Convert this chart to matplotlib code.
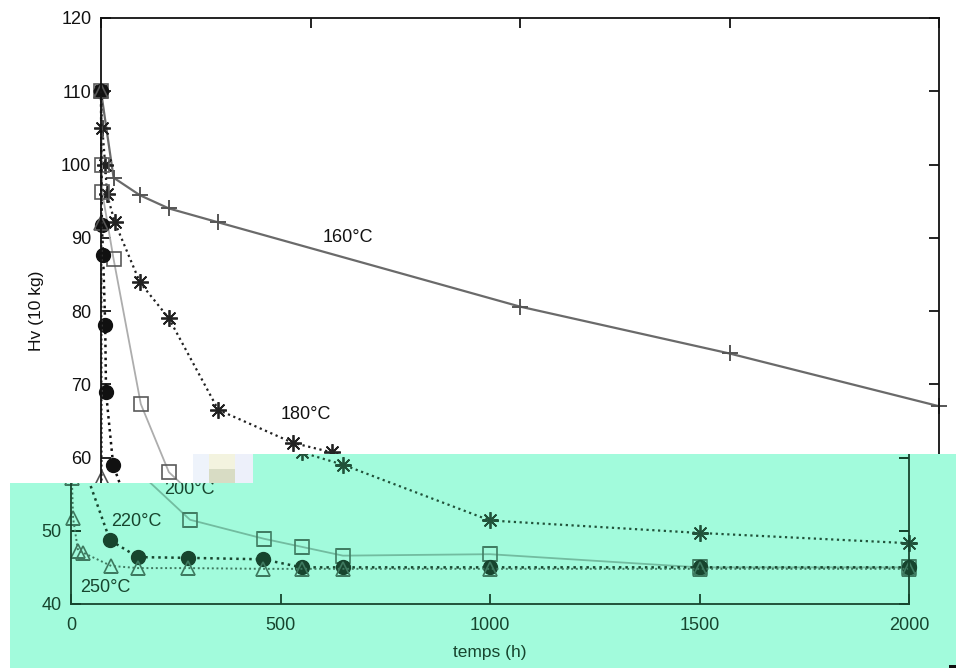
import matplotlib
matplotlib.use('Agg')
import matplotlib.pyplot as plt
from matplotlib.colors import to_rgb
from matplotlib.patches import Polygon, Rectangle
from matplotlib.transforms import Bbox, TransformedBbox

plt.rcParams['font.family'] = ['Liberation Sans', 'DejaVu Sans']

W, H = 956, 668

# ---------------- data (time in h, Hv in 10 kg) ----------------
t160 = [0, 30, 93, 162, 280, 1000, 1500, 2000]
hv160 = [110, 98.2, 95.8, 94.0, 92.1, 80.6, 74.2, 67.0]

t180 = [0, 3, 10, 14, 33, 93, 162, 280, 458, 551, 650, 1000, 1500, 2000]
hv180 = [110, 105, 100, 96.0, 92.1, 83.9, 79.0, 66.5, 62.0, 60.7, 59.0, 51.4, 49.7, 48.3]

t200 = [0, 2, 3, 30, 95, 162, 284, 461, 551, 649, 1000, 1500, 2000]
hv200 = [110, 100, 96.2, 87.1, 67.3, 58.0, 51.5, 48.9, 47.8, 46.6, 46.8, 45.0, 45.0]

t220 = [0, 2, 5, 10, 12, 29, 93, 160, 280, 458, 551, 648, 1000, 1500, 2000]
hv220 = [110, 91.7, 87.6, 78.1, 68.9, 59.0, 48.7, 46.4, 46.3, 46.1, 45.0, 45.0, 45.0, 45.0, 45.0]

t250 = [0, 1, 2, 5, 17, 29, 96, 160, 280, 458, 551, 648, 1000, 1500, 2000]
hv250 = [110, 92, 57.2, 51.7, 47.2, 47.0, 45.2, 44.9, 44.9, 44.8, 44.8, 44.8, 44.8, 44.8, 44.8]

labels = ['160°C', '180°C', '200°C', '220°C', '250°C']
label_t = [589, 489, 282, 157, 81]
label_hv = [90.1, 65.9, 55.6, 51.2, 42.3]

x_ticks = [0, 500, 1000, 1500, 2000]
y_ticks = [40, 50, 60, 70, 80, 90, 100, 110, 120]

# ---------------- styles ----------------
styles = [
    dict(color='#6a6a6a', ls='-', lw=1.6, marker='+', ms=12, mew=1.4, mfc='none', mec='#555555'),
    dict(color='#222222', ls=(0, (1, 1.6)), lw=1.6, marker=(8, 2, 0), ms=12, mew=1.3, mfc='none', mec='#222222'),
    dict(color='#adadad', ls='-', lw=1.3, marker='s', ms=10, mew=1.2, mfc='none', mec='#5a5a5a'),
    dict(color='#111111', ls=(0, (1, 1.6)), lw=1.8, marker='o', ms=10, mew=1.0, mfc='#111111', mec='#111111'),
    dict(color='#555555', ls=(0, (1, 1.4)), lw=1.4, marker='^', ms=10, mew=1.2, mfc='none', mec='#555555'),
]
series = [(t160, hv160), (t180, hv180), (t200, hv200), (t220, hv220), (t250, hv250)]

GREEN = '#a2fbdc'
DARK = (0.05, 0.22, 0.13)
SPLIT_HV = 60.5   # level where the green strip starts


def tint(c):
    # map a gray of the scanned chart onto the green-tinted lower strip
    if c == 'none':
        return c
    g = sum(to_rgb(c)) / 3
    bg = to_rgb(GREEN)
    return tuple(d + g * (b - d) for d, b in zip(DARK, bg))


def px_box(left, right, top, bottom):
    return [left / W, 1 - bottom / H, (right - left) / W, (bottom - top) / H]


def fig_pt(x, y):
    return (x / W, 1 - y / H)


fig = plt.figure(figsize=(W / 100, H / 100), dpi=100)
fig.patch.set_facecolor('white')

ax_top = fig.add_axes(px_box(101, 939, 18, 604))
ax_bot = fig.add_axes(px_box(71, 909, 18, 604))
ax_top.set_zorder(0)
ax_bot.set_zorder(2)
ax_bot.patch.set_facecolor('none')

# ---------------- upper (white) copy of the chart ----------------
for (t, hv), st in zip(series, styles):
    ax_top.plot(t, hv, color=st['color'], ls=st['ls'], lw=st['lw'], marker=st['marker'],
                ms=st['ms'], mew=st['mew'], mfc=st['mfc'], mec=st['mec'], clip_on=False)
for txt, tx, ty in zip(labels, label_t, label_hv):
    if ty > SPLIT_HV:
        ax_top.text(tx, ty, txt, fontsize=13, ha='center', va='center', color='#111111')

ax_top.set_xlim(0, 2000)
ax_top.set_ylim(40, 120)
ax_top.set_xticks(x_ticks)
ax_top.set_yticks(y_ticks, labels=[str(v) if v > 50 else '' for v in y_ticks])
ax_top.tick_params(direction='in', length=7, width=1.3, labelsize=13, pad=7,
                   top=True, right=True, labelbottom=False, colors='#111111')
for sp in ax_top.spines.values():
    sp.set_linewidth(1.3)
    sp.set_color('#111111')
ax_top.set_ylabel('Hv (10 kg)', fontsize=12.5, color='#111111')
ax_top.yaxis.set_label_coords(-0.068, 0.5)

# ---------------- green overlay strip ----------------
poly_px = [(10, 668), (10, 483), (253, 483), (253, 454), (956, 454), (956, 668)]
poly_fig = [fig_pt(x, y) for x, y in poly_px]
fig.add_artist(Polygon(poly_fig, closed=True, transform=fig.transFigure,
                       facecolor=GREEN, edgecolor='none', zorder=1))
clip_poly = Polygon(poly_fig, closed=True, transform=fig.transFigure)

# small mosaic block left by the broken scan
for x0, y0, w, h, c in [(193, 454, 16, 29, '#eef3fb'), (209, 454, 26, 15, '#f3f3df'),
                        (209, 469, 26, 14, '#d8dcc4'), (235, 454, 18, 29, '#edf0fa')]:
    fig.add_artist(Rectangle(fig_pt(x0, y0 + h), w / W, h / H, transform=fig.transFigure,
                             facecolor=c, edgecolor='none', zorder=1.2))
fig.add_artist(Rectangle(fig_pt(949, 668), 7 / W, 3 / H, transform=fig.transFigure,
                         facecolor='#111111', edgecolor='none', zorder=3))

# ---------------- lower (shifted, green) copy of the chart ----------------
for (t, hv), st in zip(series, styles):
    ln, = ax_bot.plot(t, hv, color=tint(st['color']), ls=st['ls'], lw=st['lw'], marker=st['marker'],
                      ms=st['ms'], mew=st['mew'], mfc=tint(st['mfc']), mec=tint(st['mec']))
    ln.set_clip_box(None)
    ln.set_clip_path(clip_poly)

text_box = TransformedBbox(Bbox.from_extents(10 / W, 0, 1, 1 - 483 / H), fig.transFigure)
for txt, tx, ty in zip(labels, label_t, label_hv):
    if ty < SPLIT_HV:
        tt = ax_bot.text(tx, ty, txt, fontsize=13, ha='center', va='center',
                         color=tint('#111111'), clip_on=True)
        tt.set_clip_box(text_box)

ax_bot.set_xlim(0, 2000)
ax_bot.set_ylim(40, 120)
ax_bot.set_xticks(x_ticks)
ax_bot.set_yticks(y_ticks, labels=[str(v) if v <= 50 else '' for v in y_ticks])
ax_bot.tick_params(direction='in', length=7, width=1.3, labelsize=13, pad=7,
                   top=False, right=True, colors=tint('#111111'))
ax_bot.tick_params(axis='x', pad=9)
for sp in ax_bot.spines.values():
    sp.set_linewidth(1.3)
    sp.set_color(tint('#111111'))
    sp.set_clip_on(True)
    sp.set_clip_path(clip_poly)
ax_bot.spines['top'].set_visible(False)
for tick in ax_bot.xaxis.get_major_ticks() + ax_bot.yaxis.get_major_ticks():
    for a in (tick.tick1line, tick.tick2line):
        a.set_clip_on(True)
        a.set_clip_path(clip_poly)
ax_bot.set_xlabel('temps (h)', fontsize=12.5, color=tint('#111111'))
ax_bot.xaxis.set_label_coords(0.5, -0.070)

fig.savefig('out.png', dpi=100, facecolor='white')
